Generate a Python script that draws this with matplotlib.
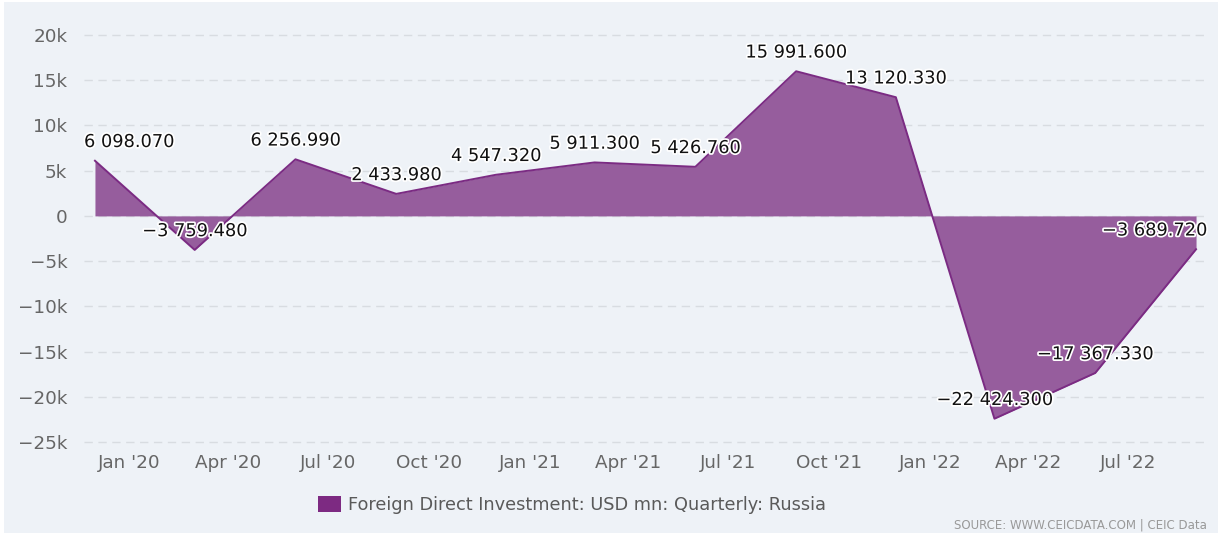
import matplotlib
matplotlib.use("Agg")
import matplotlib.pyplot as plt
import matplotlib.dates as mdates
import matplotlib.patheffects as pe
from matplotlib.patches import Rectangle, Patch
import numpy as np
import datetime as dt

dates = ["2019-12-01", "2020-03-01", "2020-06-01", "2020-09-01", "2020-12-01",
         "2021-03-01", "2021-06-01", "2021-09-01", "2021-12-01", "2022-03-01",
         "2022-06-01", "2022-09-01"]
values = [6098.07, -3759.48, 6256.99, 2433.98, 4547.32, 5911.30, 5426.76,
          15991.60, 13120.33, -22424.30, -17367.33, -3689.72]
labels = ["6 098.070", "\u22123 759.480", "6 256.990", "2 433.980", "4 547.320",
          "5 911.300", "5 426.760", "15 991.600", "13 120.330", "\u221222 424.300",
          "\u221217 367.330", "\u22123 689.720"]
y_ticks = [20000, 15000, 10000, 5000, 0, -5000, -10000, -15000, -20000, -25000]
y_tick_labels = ["20k", "15k", "10k", "5k", "0", "\u22125k", "\u221210k", "\u221215k", "\u221220k", "\u221225k"]
x_tick_dates = ["2020-01-01", "2020-04-01", "2020-07-01", "2020-10-01", "2021-01-01",
                "2021-04-01", "2021-07-01", "2021-10-01", "2022-01-01", "2022-04-01",
                "2022-07-01"]
x_tick_labels = ["Jan '20", "Apr '20", "Jul '20", "Oct '20", "Jan '21", "Apr '21",
                 "Jul '21", "Oct '21", "Jan '22", "Apr '22", "Jul '22"]
series_name = "Foreign Direct Investment: USD mn: Quarterly: Russia"

W, H = 1224, 535
fig = plt.figure(figsize=(W / 100, H / 100), dpi=100, facecolor="white")
bg = "#eef2f7"
fig.patches.append(Rectangle((4 / W, 2 / H), (W - 10) / W, (H - 4) / H,
                             transform=fig.transFigure, facecolor=bg,
                             edgecolor="none", zorder=-10))

ax = fig.add_axes([84 / W, 1 - 448 / H, (1207 - 84) / W, (448 - 30) / H])
ax.set_facecolor("none")

x = np.array([dt.datetime.strptime(d, "%Y-%m-%d") for d in dates])
xn = mdates.date2num(x)
y = np.array(values)

line_c = "#7b2b83"
fill_c = "#965d9d"
ax.fill_between(xn, 0, y, color=fill_c, linewidth=0, zorder=2)
ax.plot(xn, y, color=line_c, linewidth=1.4, zorder=3)

x0 = mdates.date2num(dt.datetime(2019, 11, 21))
x1 = mdates.date2num(dt.datetime(2022, 9, 11))
ax.set_xlim(x0, x1)
ax.set_ylim(-25663, 20553)

ax.set_yticks(y_ticks)
ax.set_yticklabels(y_tick_labels)
xt = [mdates.date2num(dt.datetime.strptime(d, "%Y-%m-%d")) for d in x_tick_dates]
ax.set_xticks(xt)
ax.set_xticklabels(x_tick_labels)
ax.tick_params(axis="both", length=0, labelsize=13.2, labelcolor="#666666")
ax.tick_params(axis="y", pad=12)
ax.tick_params(axis="x", pad=4)
for s in ax.spines.values():
    s.set_visible(False)
ax.yaxis.grid(True, color="#d8dce1", linestyle=(0, (6, 4)), linewidth=1)
ax.set_axisbelow(True)

texts = []
for xi, yi, lab in zip(xn, y, labels):
    t = ax.annotate(lab, (xi, yi), xytext=(0, 7), textcoords="offset points",
                    ha="center", va="bottom", fontsize=12.8, color="#111111",
                    zorder=5,
                    path_effects=[pe.withStroke(linewidth=2.5, foreground="white")])
    texts.append(t)

fig.canvas.draw()
r = fig.canvas.get_renderer()
axbb = ax.get_window_extent(r)
for t in texts:
    bb = t.get_window_extent(r)
    dx = 0
    if bb.x0 < axbb.x0:
        dx = axbb.x0 - bb.x0
    elif bb.x1 > axbb.x1:
        dx = axbb.x1 - bb.x1
    if dx:
        ox, oy = t.xyann
        t.xyann = (ox + dx * 72 / fig.dpi, oy)

handle = Patch(facecolor="#7d2a82", edgecolor="none")
leg = fig.legend([handle], [series_name], loc="center", bbox_to_anchor=(572 / W, 1 - 505 / H),
                 frameon=False, fontsize=12.8, handlelength=1.3, handleheight=1.0,
                 handletextpad=0.4)
for txt in leg.get_texts():
    txt.set_color("#5a5a5a")

fig.text(1207 / W, 1 - 525 / H, "SOURCE: WWW.CEICDATA.COM | CEIC Data", ha="right",
         va="center", fontsize=8.5, color="#999999")

fig.savefig("out.png", dpi=100, facecolor="white")
